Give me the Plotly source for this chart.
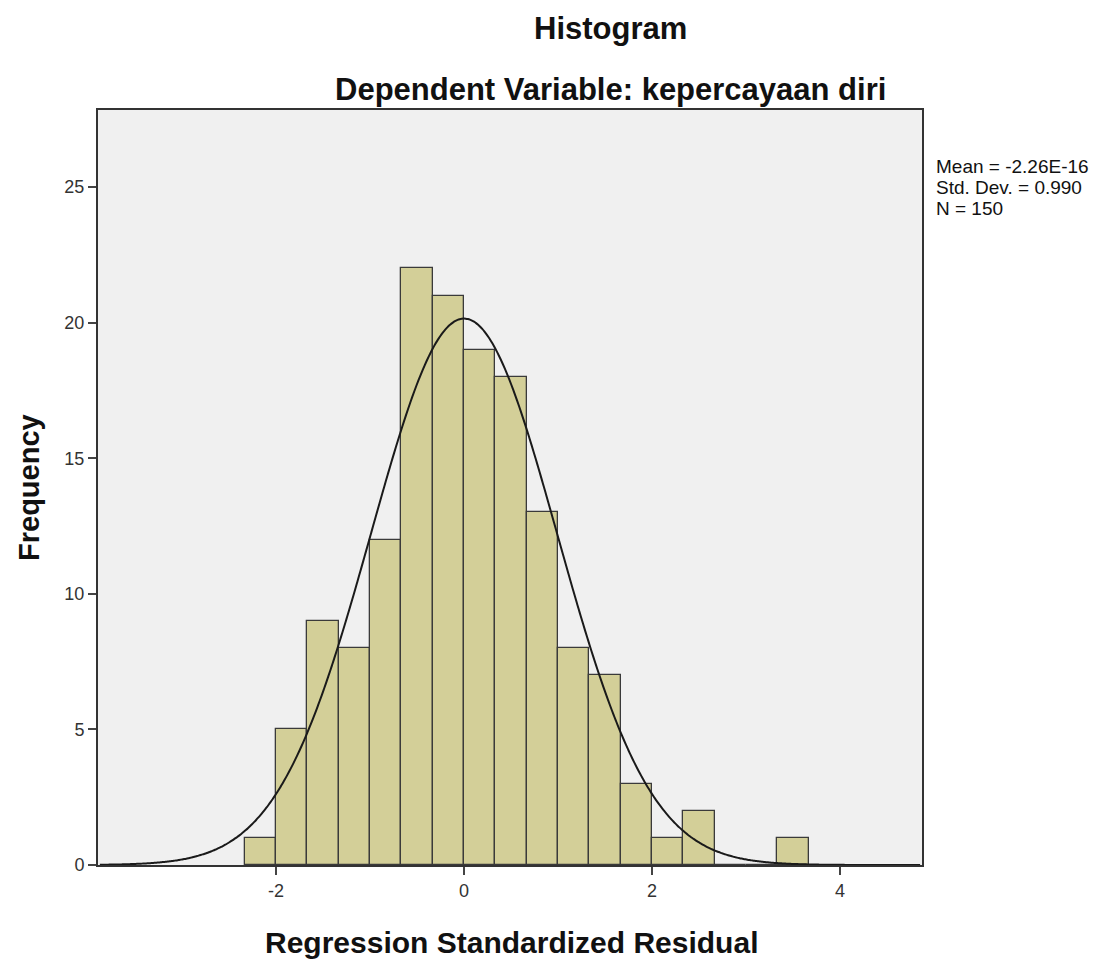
import numpy as np
import plotly.graph_objects as go

# Data
bin_start = -2.3333
bin_width = 1.0 / 3.0
counts = [1, 5, 9, 8, 12, 22, 21, 19, 18, 13, 8, 7, 3, 1, 2, 0, 0, 1]
stat_mean = -2.26e-16
stat_sd = 0.990
stat_n = 150
x_ticks = [-2, 0, 2, 4]
y_ticks = [0, 5, 10, 15, 20, 25]
stat_lines = ["Mean = -2.26E-16", "Std. Dev. = 0.990", "N = 150"]

centers = [bin_start + bin_width * (i + 0.5) for i in range(len(counts))]

x_range = [-3.894, 4.872]
y_range = [0, 27.84]

# Normal curve derived from the reported statistics
xc = np.linspace(x_range[0] + 0.02, x_range[1] - 0.02, 400)
yc = stat_n * bin_width / (stat_sd * np.sqrt(2 * np.pi)) * np.exp(-0.5 * ((xc - stat_mean) / stat_sd) ** 2)

fig = go.Figure()
fig.add_trace(go.Bar(
    x=centers, y=counts, width=bin_width,
    marker=dict(color="#d3cf98", line=dict(color="#3a3a3a", width=1.3)),
    hoverinfo="skip",
))
fig.add_trace(go.Scatter(
    x=xc, y=yc, mode="lines",
    line=dict(color="#1a1a1a", width=2, shape="spline"),
    hoverinfo="skip",
))

font_family = "Liberation Sans, Arial, sans-serif"

# page-pixel geometry of the plot area (page has 8px body offset)
PL, PR, PT, PB = 98, 922, 110, 865
PW, PH = PR - PL, PB - PT


def px(x):
    return (x - PL) / PW


def py(y):
    return (PB - y) / PH


annotations = [
    dict(text="<b>Histogram</b>", xref="paper", yref="paper",
         x=px(610), y=py(28), yanchor="middle", showarrow=False,
         font=dict(size=31, color="#111111", family=font_family)),
    dict(text="<b>Dependent Variable: kepercayaan diri</b>", xref="paper", yref="paper",
         x=px(610), y=py(89), yanchor="middle", showarrow=False,
         font=dict(size=31, color="#111111", family=font_family)),
    dict(text="<b>Regression Standardized Residual</b>", xref="paper", yref="paper",
         x=px(511), y=py(942), yanchor="middle", showarrow=False,
         font=dict(size=30, color="#111111", family=font_family)),
    dict(text="<b>Frequency</b>", xref="paper", yref="paper",
         x=px(29), y=py(488), xanchor="center", yanchor="middle", showarrow=False, textangle=-90,
         font=dict(size=29, color="#111111", family=font_family)),
]
for i, line in enumerate(stat_lines):
    annotations.append(dict(
        text=line, xref="paper", yref="paper", x=px(934), y=py(166 + 21 * i),
        xanchor="left", yanchor="middle", align="left", showarrow=False,
        font=dict(size=19, color="#111111", family=font_family)))

fig.update_layout(
    width=1120, height=960,
    margin=dict(l=PL - 8, r=1120 - PR + 8, t=PT - 8, b=960 - PB + 8),
    paper_bgcolor="white",
    plot_bgcolor="#f0f0f0",
    showlegend=False,
    bargap=0,
    font=dict(family=font_family, color="#333333"),
    xaxis=dict(
        range=x_range, tickvals=x_ticks, ticktext=[str(v) for v in x_ticks],
        ticks="outside", ticklen=8, tickwidth=2, tickcolor="#444444",
        showgrid=False, zeroline=False,
        showline=True, linecolor="#333333", linewidth=2, mirror=True,
        tickfont=dict(size=18, color="#333333", family=font_family),
    ),
    yaxis=dict(
        range=y_range, tickvals=y_ticks, ticktext=[str(v) for v in y_ticks],
        ticks="outside", ticklen=8, tickwidth=2, tickcolor="#444444",
        showgrid=False, zeroline=False,
        showline=True, linecolor="#333333", linewidth=2, mirror=True,
        tickfont=dict(size=18, color="#333333", family=font_family),
    ),
    annotations=annotations,
)

fig.write_html("out.html")
